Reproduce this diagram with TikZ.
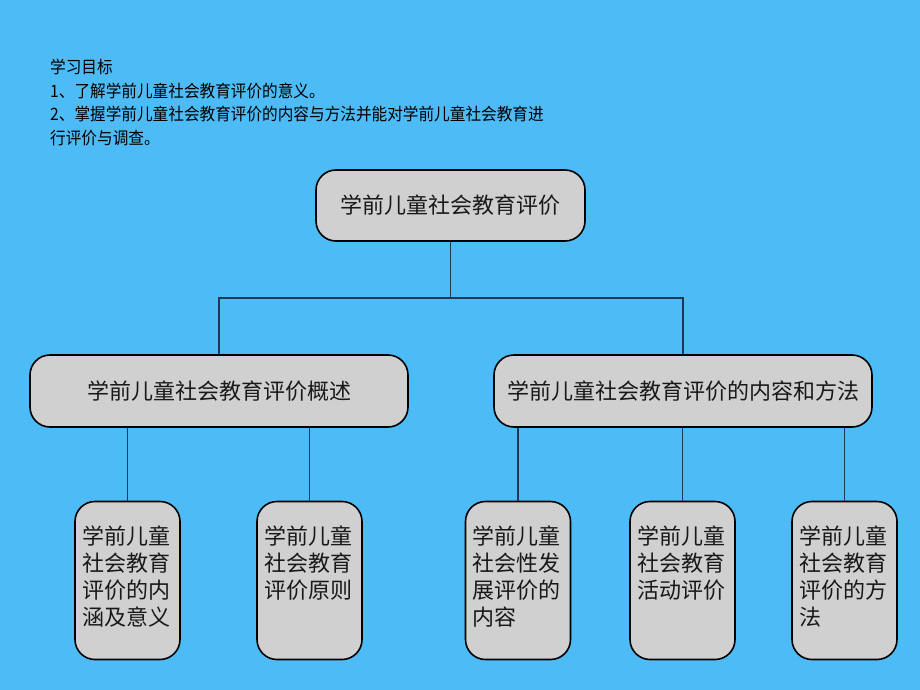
\documentclass[tikz,border=0pt]{standalone}
\usepackage{fontspec}
\setmainfont{Liberation Sans}
\newfontfamily\cjk{Noto Sans CJK SC}
\newfontfamily\cjknarrow[FakeStretch=0.92]{Noto Sans CJK SC}
\definecolor{bgblue}{RGB}{77,187,245}
\definecolor{boxgray}{RGB}{208,208,208}
\definecolor{linkcol}{RGB}{30,55,85}
\definecolor{txtcol}{RGB}{25,25,25}
\begin{document}
\begin{tikzpicture}[x=1pt,y=-1pt,
  box/.style={draw=black,line width=1.6pt,fill=boxgray,rounded corners=20pt,inner sep=0pt},
  bigtext/.style={font=\cjk\fontsize{22}{27}\selectfont,text=txtcol},
  smalltext/.style={font=\cjk\fontsize{22}{27}\selectfont,text=txtcol,align=left,anchor=north west,inner sep=0pt},
  link/.style={draw=linkcol,line width=1.4pt}]
\fill[bgblue] (0,0) rectangle (920,690);
\useasboundingbox (0,0) rectangle (920,690);
% heading text
\node[anchor=north west,inner sep=0pt,align=left,font=\cjknarrow\fontsize{17}{23.5}\selectfont,text=black] (goal) at (50,59)
 {学习目标\\1、了解学前儿童社会教育评价的意义。\\2、掌握学前儿童社会教育评价的内容与方法并能对学前儿童社会教育进\\行评价与调查。};
% top box
\node[box,minimum width=269pt,minimum height=71pt,bigtext] (top) at (450.5,205.5) {学前儿童社会教育评价};
% mid boxes
\node[box,minimum width=378pt,minimum height=72pt,bigtext] (m1) at (219,391) {学前儿童社会教育评价概述};
\node[box,minimum width=378pt,minimum height=72pt,bigtext] (m2) at (683,391) {学前儿童社会教育评价的内容和方法};
% bottom boxes
\foreach \n/\x in {b1/127.5,b2/309.5,b3/518,b4/682.5,b5/844.5}{
  \node[box,minimum width=105pt,minimum height=158pt] (\n) at (\x,580.5) {};
}
\node[smalltext] (t1) at ([xshift=8pt,yshift=-25pt]b1.north west) {学前儿童\\社会教育\\评价的内\\涵及意义};
\node[smalltext] (t2) at ([xshift=8pt,yshift=-25pt]b2.north west) {学前儿童\\社会教育\\评价原则};
\node[smalltext] (t3) at ([xshift=8pt,yshift=-25pt]b3.north west) {学前儿童\\社会性发\\展评价的\\内容};
\node[smalltext] (t4) at ([xshift=8pt,yshift=-25pt]b4.north west) {学前儿童\\社会教育\\活动评价};
\node[smalltext] (t5) at ([xshift=8pt,yshift=-25pt]b5.north west) {学前儿童\\社会教育\\评价的方\\法};
% connectors
\coordinate (j) at (450.5,298);
\draw[link] (top.south) -- (j);
\draw[link] (m1.north) |- (j) -| (m2.north);
\draw[link] (b1.north) -- (b1.north |- m1.south);
\draw[link] (b2.north) -- (b2.north |- m1.south);
\draw[link] (b3.north) -- (b3.north |- m2.south);
\draw[link] (b4.north) -- (b4.north |- m2.south);
\draw[link] (b5.north) -- (b5.north |- m2.south);
\end{tikzpicture}
\end{document}
